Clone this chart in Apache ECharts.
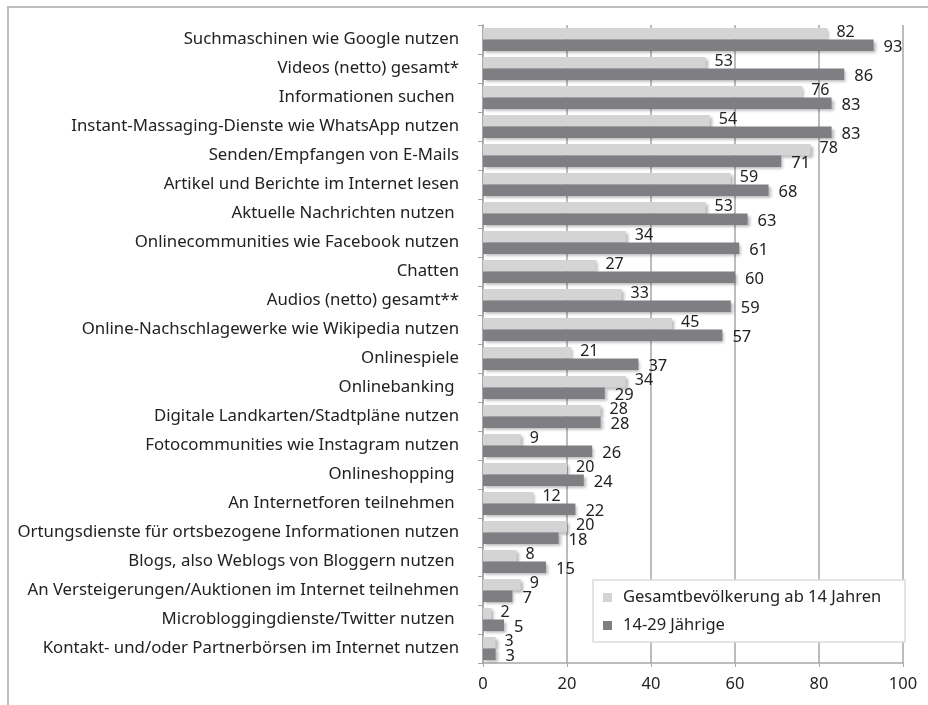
<!DOCTYPE html>
<html>
<head>
<meta charset="utf-8">
<script src="https://cdn.jsdelivr.net/npm/echarts@6/dist/echarts.min.js"></script>
<style>
    html, body { margin: 0; padding: 0; background: #fff; }
    #chart { width: 928px; height: 705px; }
</style>
</head>
<body>
<div id="chart"></div>
<script>
    var categories = [
        "Suchmaschinen wie Google nutzen",
        "Videos (netto) gesamt*",
        "Informationen suchen ",
        "Instant-Massaging-Dienste wie WhatsApp nutzen",
        "Senden/Empfangen von E-Mails",
        "Artikel und Berichte im Internet lesen",
        "Aktuelle Nachrichten nutzen ",
        "Onlinecommunities wie Facebook nutzen",
        "Chatten",
        "Audios (netto) gesamt**",
        "Online-Nachschlagewerke wie Wikipedia nutzen",
        "Onlinespiele",
        "Onlinebanking ",
        "Digitale Landkarten/Stadtpläne nutzen",
        "Fotocommunities wie Instagram nutzen",
        "Onlineshopping ",
        "An Internetforen teilnehmen ",
        "Ortungsdienste für ortsbezogene Informationen nutzen",
        "Blogs, also Weblogs von Bloggern nutzen ",
        "An Versteigerungen/Auktionen im Internet teilnehmen",
        "Microbloggingdienste/Twitter nutzen ",
        "Kontakt- und/oder Partnerbörsen im Internet nutzen"
    ];
    var gesamt = [82, 53, 76, 54, 78, 59, 53, 34, 27, 33, 45, 21, 34, 28, 9, 20, 12, 20, 8, 9, 2, 3];
    var jung = [93, 86, 83, 83, 71, 68, 63, 61, 60, 59, 57, 37, 29, 28, 26, 24, 22, 18, 15, 7, 5, 3];
    var seriesNames = ["Gesamtbevölkerung ab 14 Jahren", "14-29 Jährige"];
    var xTicks = [0, 20, 40, 60, 80, 100];

    var font = "Noto Sans";
    var shadow = {
        shadowColor: "rgba(0,0,0,0.3)",
        shadowBlur: 3,
        shadowOffsetX: 2,
        shadowOffsetY: 2
    };

    var chart = echarts.init(document.getElementById("chart"));
    var option = {
        animation: false,
        textStyle: { fontFamily: font },
        grid: { left: 483, right: 25, top: 25, bottom: 42 },
        graphic: [{
            type: "rect",
            z: 0,
            shape: { x: 8, y: 7, width: 1000, height: 1000 },
            style: { fill: "none", stroke: "#bdbdbd", lineWidth: 2 }
        }, {
            type: "rect",
            z: 50,
            shape: { x: 593, y: 580, width: 312, height: 62 },
            style: { fill: "#fff", stroke: "#dcdcdc", lineWidth: 1.5 }
        }],
        legend: {
            z: 60,
            orient: "vertical",
            left: 598,
            top: 584,
            itemGap: 11,
            icon: "rect",
            itemWidth: 9,
            itemHeight: 9,
            textStyle: { fontFamily: font, fontSize: 16.5, color: "#222", padding: [0, 0, 0, 6] },
            data: seriesNames
        },
        xAxis: {
            type: "value",
            min: 0,
            max: 100,
            interval: 20,
            axisLine: { show: true, lineStyle: { color: "#a6a6a6", width: 1.5 } },
            axisTick: { show: true, length: 4, lineStyle: { color: "#a6a6a6" } },
            splitLine: { show: true, lineStyle: { color: "#a6a6a6", width: 1.5 } },
            axisLabel: {
                fontFamily: font,
                fontSize: 16.5,
                color: "#222",
                margin: 13,
                formatter: function(v) {
                    return xTicks.indexOf(v) >= 0 ? String(v) : "";
                }
            }
        },
        yAxis: {
            type: "category",
            inverse: true,
            data: categories,
            axisLine: { show: true, lineStyle: { color: "#a6a6a6", width: 1.5 } },
            axisTick: { show: true, length: 5, lineStyle: { color: "#a6a6a6" } },
            axisLabel: {
                fontFamily: font,
                fontSize: 16.8,
                color: "#222",
                margin: 24,
                interval: 0
            }
        },
        series: [{
            name: seriesNames[0],
            type: "bar",
            data: gesamt,
            barGap: "0%",
            barCategoryGap: "20%",
            itemStyle: Object.assign({ color: "#d4d4d4" }, shadow),
            label: {
                show: true,
                position: "right",
                distance: 9,
                offset: [0, -1],
                fontFamily: font,
                fontSize: 16,
                color: "#222"
            }
        }, {
            name: seriesNames[1],
            type: "bar",
            data: jung,
            itemStyle: Object.assign({ color: "#7f7f83" }, shadow),
            label: {
                show: true,
                position: "right",
                distance: 10,
                offset: [0, 2],
                fontFamily: font,
                fontSize: 16.5,
                color: "#222"
            }
        }]
    };

    chart.setOption(option);
</script>
</body>
</html>
